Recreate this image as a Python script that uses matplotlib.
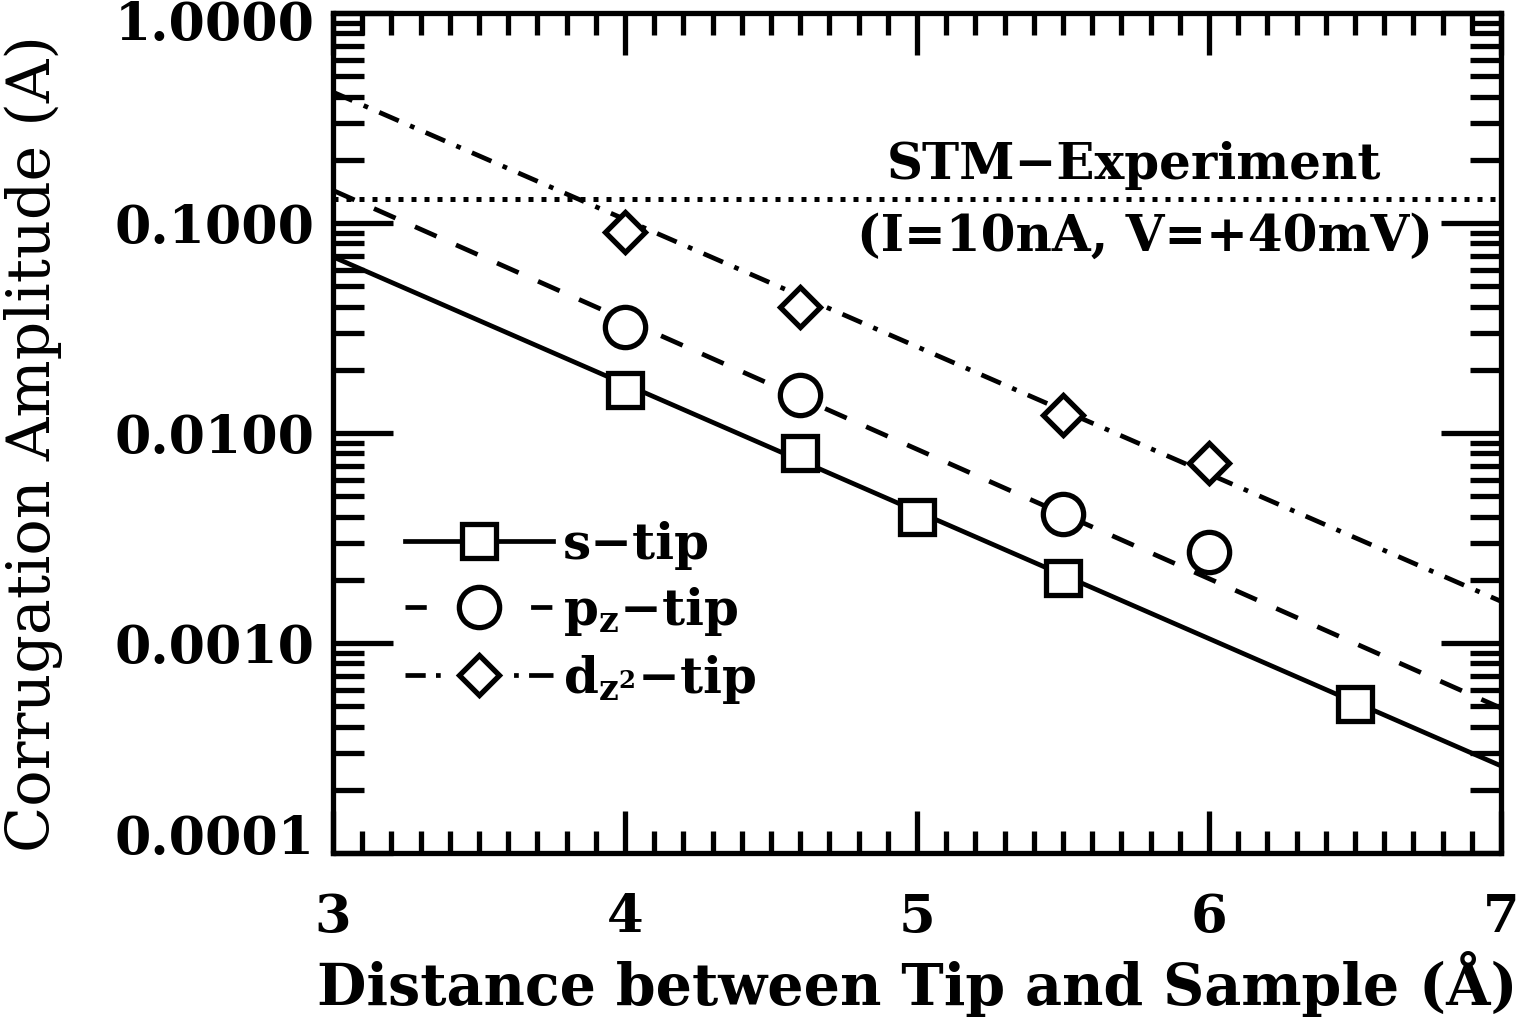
import matplotlib
matplotlib.use("Agg")
import matplotlib.pyplot as plt
from matplotlib.lines import Line2D
from matplotlib.transforms import ScaledTranslation
from matplotlib.ticker import LogLocator, FixedLocator, FuncFormatter, MultipleLocator

# Computed corrugation amplitudes for the three tip orbitals
distance_s = [4.0, 4.6, 5.0, 5.5, 6.5]
amp_s = [0.0160, 0.0080, 0.0040, 0.00204, 0.00051]

distance_pz = [4.0, 4.6, 5.5, 6.0]
amp_pz = [0.0320, 0.0152, 0.0041, 0.0027]

distance_dz2 = [4.0, 4.6, 5.5, 6.0]
amp_dz2 = [0.091, 0.040, 0.0122, 0.0072]

# Exponential fits, evaluated at the ends of the distance range
fit_distance = [3.0, 7.0]
fit_s = [0.069, 0.00026]
fit_pz = [0.143, 0.00049]
fit_dz2 = [0.42, 0.00158]

# Measured corrugation (STM experiment)
stm_level = 0.130

x_ticks = [3, 4, 5, 6, 7]
y_ticks = [0.0001, 0.001, 0.01, 0.1, 1.0]
y_tick_labels = ["0.0001", "0.0010", "0.0100", "0.1000", "1.0000"]

labels = ["s\u2212tip", r"p$_{\mathbf{z}}$" + "\u2212tip", r"d$_{\mathbf{z^2}}$" + "\u2212tip"]

plt.rcParams["font.family"] = ["DejaVu Serif"]
plt.rcParams["mathtext.fontset"] = "dejavuserif"

fig = plt.figure(figsize=(15.28, 10.24), dpi=100)
ax = fig.add_axes([0.2179, 0.1670, 0.9823 - 0.2179, 0.9873 - 0.1670])

LW = 3.4
dash_style = (0, (5.0, 4.5))
dashdot_style = (0, (4.5, 2.6, 1.0, 2.6))

ax.plot(fit_distance, fit_s, color="black", lw=LW, linestyle="-", zorder=2)
ax.plot(fit_distance, fit_pz, color="black", lw=LW, linestyle=dash_style, zorder=2)
ax.plot(fit_distance, fit_dz2, color="black", lw=LW, linestyle=dashdot_style, zorder=2)
ax.plot(fit_distance, [stm_level, stm_level], color="black", lw=3.6,
        linestyle=(0, (1.0, 1.6)), zorder=2)

mk = dict(linestyle="none", markerfacecolor="white", markeredgecolor="black",
          markeredgewidth=3.8, zorder=3)
ax.plot(distance_s, amp_s, marker="s", markersize=25, **mk)
ax.plot(distance_pz, amp_pz, marker="o", markersize=29, **mk)
ax.plot(distance_dz2, amp_dz2, marker="D", markersize=20.5, **mk)

ax.set_yscale("log")
ax.set_xlim(3, 7)
ax.set_ylim(0.0001, 1.0)

ax.xaxis.set_major_locator(FixedLocator(x_ticks))
ax.xaxis.set_minor_locator(MultipleLocator(0.1))
ax.yaxis.set_major_locator(FixedLocator(y_ticks))
ax.yaxis.set_minor_locator(LogLocator(base=10, subs=range(2, 10)))
ax.yaxis.set_major_formatter(FuncFormatter(
    lambda v, p: dict(zip(y_ticks, y_tick_labels)).get(v, "")))
ax.xaxis.set_major_formatter(FuncFormatter(lambda v, p: f"{v:.0f}"))

ax.tick_params(axis="both", which="both", direction="in", top=True, right=True,
               width=3.8, color="black")
ax.tick_params(axis="x", which="major", length=30, pad=28, labelsize=38)
ax.tick_params(axis="x", which="minor", length=16)
ax.tick_params(axis="y", which="major", length=43, pad=13, labelsize=37.5)
ax.tick_params(axis="y", which="minor", length=22)
for lab in ax.get_xticklabels() + ax.get_yticklabels():
    lab.set_fontweight("bold")

for sp in ax.spines.values():
    sp.set_linewidth(3.8)

ax.set_xlabel("Distance between Tip and Sample (\u00c5)", fontsize=41,
              fontweight="bold", labelpad=6)
ax.set_ylabel("Corrugation Amplitude (A)", fontsize=43.5)
ax.yaxis.set_label_coords(-0.231, 0.488)

ax.text(0.686, 0.818, "STM\u2212Experiment", transform=ax.transAxes,
        ha="center", va="center", fontsize=36, fontweight="bold")
ax.text(0.695, 0.733, "(I=10nA, V=+40mV)", transform=ax.transAxes,
        ha="center", va="center", fontsize=36, fontweight="bold")

# Legend keys: short dash patterns so each key reads "line - marker - line"
mk_leg = dict(markerfacecolor="white", markeredgecolor="black", markeredgewidth=3.8)
handles = [
    Line2D([], [], color="black", lw=LW, linestyle="-", marker="s", markersize=25, **mk_leg),
    Line2D([], [], color="black", lw=LW, linestyle=(0, (4.5, 8.8)), marker="o",
           markersize=29, **mk_leg),
    Line2D([], [], color="black", lw=LW,
           linestyle=(0, (4.28, 2.18, 1.0, 15.53, 1.0, 2.18, 6.0, 2.0)),
           marker="D", markersize=20.5, **mk_leg),
]
leg = ax.legend(handles, labels, loc="upper left", bbox_to_anchor=(0.0616, 0.3955),
                frameon=False, handlelength=2.96, handletextpad=0.2,
                labelspacing=0.3, borderpad=0, borderaxespad=0, numpoints=1,
                prop=dict(size=36, weight="bold"))

# Pull the end labels of the y axis inwards so they stay inside the frame
fig.canvas.draw()
shifts = {"1.0000": -5 / 72, "0.0001": 14 / 72}
for tick in ax.yaxis.get_major_ticks():
    txt = tick.label1.get_text()
    if txt in shifts:
        tick.label1.set_transform(tick.label1.get_transform() +
                                  ScaledTranslation(0, shifts[txt], fig.dpi_scale_trans))

fig.savefig("out.png", dpi=100)
